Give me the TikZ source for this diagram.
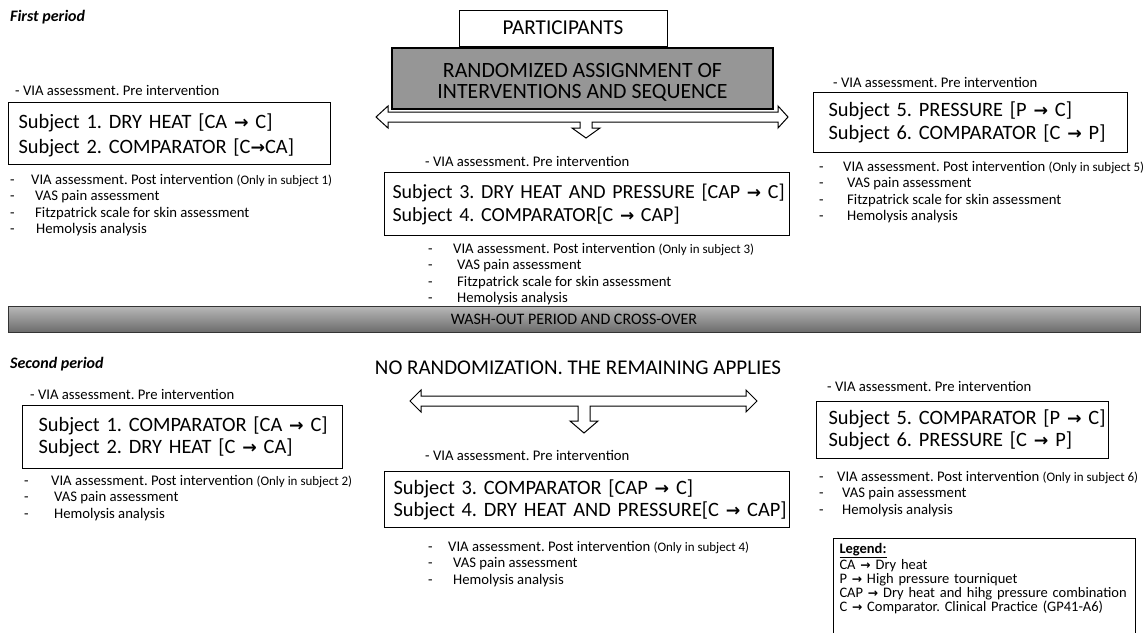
\documentclass[tikz,border=0pt]{standalone}
\usepackage{fontspec}
\setmainfont{Carlito}
\newfontfamily\arrowfont{DejaVu Sans}
\usetikzlibrary{positioning}
\definecolor{boxgray}{RGB}{150,150,150}
\newcommand{\rarr}{{\arrowfont\bfseries\scalebox{0.85}{→}}}
\newcommand{\itm}[2][21pt]{\makebox[#1][l]{-}#2}
\newcommand{\smallnote}[1]{{\fontsize{13}{14}\selectfont #1}}
\newcommand{\subjline}[1]{\mbox{#1}}

\begin{document}
\frenchspacing
\begin{tikzpicture}[x=1pt, y=-1pt,
  subj/.style={draw, line width=1.1pt, anchor=north west, align=left,
    inner ysep=0pt, font=\fontsize{20.4}{23}\selectfont},
  pre/.style={anchor=west, inner sep=0pt, font=\fontsize{14.7}{16}\selectfont},
  checks/.style={anchor=north west, inner sep=0pt, align=left,
    font=\fontsize{14.7}{16.5}\selectfont},
  period/.style={anchor=west, inner sep=0pt,
    font=\fontsize{16}{18}\selectfont\bfseries\itshape},
  hollow/.style={draw, line width=1pt, fill=white, line join=miter},
]
  \useasboundingbox (0,0) rectangle (1146,632);
  \clip (0,0) rectangle (1146,632);
  \fill[white] (0,0) rectangle (1146,632);

  % first period
  \node[period] (p1) at (10,17) {First period};
  \node[draw, line width=1pt, minimum width=208pt, minimum height=36pt,
    inner sep=0pt, font=\fontsize{21.2}{24}\selectfont] (part) at (563,28) {PARTICIPANTS};
  \node[draw, line width=1.5pt, fill=boxgray, minimum width=381pt, minimum height=61pt,
    align=center, font=\fontsize{21.8}{20.5}\selectfont] (rand) at (582.5,78.5)
    {\rule{0pt}{21.5pt}RANDOMIZED ASSIGNMENT OF\\INTERVENTIONS AND SEQUENCE};
  \draw[hollow] (376,117) -- (388,106) -- (388,112) -- (778,112) -- (778,106)
    -- (788,117) -- (778,128) -- (778,122) -- (592,122) -- (592,128) -- (600,128)
    -- (586,138) -- (572,128) -- (580,128) -- (580,122) -- (388,122) -- (388,128) -- cycle;

  \node[pre] (pre12) at (15,90) {- VIA assessment. Pre intervention};
  \node[subj, inner xsep=10pt, text width=302pt, minimum height=62pt,
    font=\fontsize{20.4}{25}\selectfont] (s12) at (8,102)
    {\rule{0pt}{18pt}\subjline{Subject 1. DRY HEAT [CA \rarr\ C]}\\\subjline{Subject 2. COMPARATOR [C\rarr CA]}};
  \node[checks] (c12) at (10,174) {
    \itm{VIA assessment. Post intervention \smallnote{(Only in subject 1)}}\\
    \itm[25pt]{VAS pain assessment}\\
    \itm[25pt]{Fitzpatrick scale for skin assessment}\\
    \itm[26pt]{Hemolysis analysis}};

  \node[pre] (pre34) at (425,161) {- VIA assessment. Pre intervention};
  \node[subj, inner xsep=8pt, text width=389pt, minimum height=63pt,
    font=\fontsize{20}{23}\selectfont] (s34) at (384,172)
    {\subjline{Subject 3. DRY HEAT AND PRESSURE [CAP \rarr\ C]}\\\subjline{Subject 4. COMPARATOR[C \rarr\ CAP]}};
  \node[checks] (c34) at (428,243) {
    \itm[25pt]{VIA assessment. Post intervention \smallnote{(Only in subject 3)}}\\
    \itm[29pt]{VAS pain assessment}\\
    \itm[29pt]{Fitzpatrick scale for skin assessment}\\
    \itm[29pt]{Hemolysis analysis}};

  \node[pre] (pre56) at (833,82) {- VIA assessment. Pre intervention};
  \node[subj, inner xsep=15pt, text width=284pt, minimum height=60pt] (s56) at (813,92)
    {\subjline{Subject 5. PRESSURE [P \rarr\ C]}\\\subjline{Subject 6. COMPARATOR [C \rarr\ P]}};
  \node[checks] (c56) at (819,161) {
    \itm[24pt]{VIA assessment. Post intervention \smallnote{(Only in subject 5)}}\\
    \itm[28pt]{VAS pain assessment}\\
    \itm[28pt]{Fitzpatrick scale for skin assessment}\\
    \itm[28pt]{Hemolysis analysis}};

  % wash-out
  \node[draw=gray!40!black, line width=1pt, top color=gray!55, bottom color=gray!85!black,
    minimum width=1132pt, minimum height=26pt, font=\fontsize{16}{18}\selectfont]
    (wash) at (574,319) {WASH-OUT PERIOD AND CROSS-OVER};

  % second period
  \node[period] (p2) at (10,364) {Second period};
  \node[inner sep=0pt, font=\fontsize{21}{24}\selectfont] (norand) at (578,368)
    {NO RANDOMIZATION. THE REMAINING APPLIES};
  \draw[hollow] (410,401) -- (421,390) -- (421,396) -- (746,396) -- (746,390)
    -- (757,401) -- (746,412) -- (746,406) -- (590,406) -- (590,421) -- (598,421)
    -- (584,433) -- (570,421) -- (578,421) -- (578,406) -- (421,406) -- (421,412) -- cycle;

  \node[pre] (pre12b) at (30,394) {- VIA assessment. Pre intervention};
  \node[subj, inner xsep=16pt, text width=288pt, minimum height=63pt,
    font=\fontsize{20.4}{22}\selectfont] (s12b) at (22,405)
    {\subjline{Subject 1. COMPARATOR [CA \rarr\ C]}\\\subjline{Subject 2. DRY HEAT [C \rarr\ CA]}};
  \node[checks] (c12b) at (24,475) {
    \itm[27pt]{VIA assessment. Post intervention \smallnote{(Only in subject 2)}}\\
    \itm[30pt]{VAS pain assessment}\\
    \itm[30pt]{Hemolysis analysis}};

  \node[pre] (pre34b) at (425,455) {- VIA assessment. Pre intervention};
  \node[subj, inner xsep=9pt, text width=387pt, minimum height=56pt,
    font=\fontsize{20.4}{22}\selectfont] (s34b) at (384,471)
    {\subjline{Subject 3. COMPARATOR [CAP \rarr\ C]}\\\subjline{Subject 4. DRY HEAT AND PRESSURE[C \rarr\ CAP]}};
  \node[checks] (c34b) at (428,541) {
    \itm[20pt]{VIA assessment. Post intervention \smallnote{(Only in subject 4)}}\\
    \itm[25pt]{VAS pain assessment}\\
    \itm[25pt]{Hemolysis analysis}};

  \node[pre] (pre56b) at (827,386) {- VIA assessment. Pre intervention};
  \node[subj, inner xsep=12pt, text width=268pt, minimum height=57pt,
    font=\fontsize{20.4}{22}\selectfont] (s56b) at (816,401)
    {\subjline{Subject 5. COMPARATOR [P \rarr\ C]}\\\subjline{Subject 6. PRESSURE [C \rarr\ P]}};
  \node[checks] (c56b) at (819,471) {
    \itm[18pt]{VIA assessment. Post intervention \smallnote{(Only in subject 6)}}\\
    \itm[23pt]{VAS pain assessment}\\
    \itm[23pt]{Hemolysis analysis}};

  % legend
  \node[draw, line width=1pt, anchor=north west, align=left, inner xsep=6pt, inner ysep=5pt,
    text width=290pt, font=\fontsize{14.5}{14}\selectfont] (legend) at (833,538) {
    \textbf{\underline{Legend:}}\\
    CA \rarr\ Dry heat\\
    P \rarr\ High pressure tourniquet\\
    CAP \rarr\ Dry heat and hihg pressure combination\\
    C \rarr\ Comparator. Clinical Practice (GP41-A6)\\
    \rule{0pt}{30pt}};
\end{tikzpicture}
\end{document}
